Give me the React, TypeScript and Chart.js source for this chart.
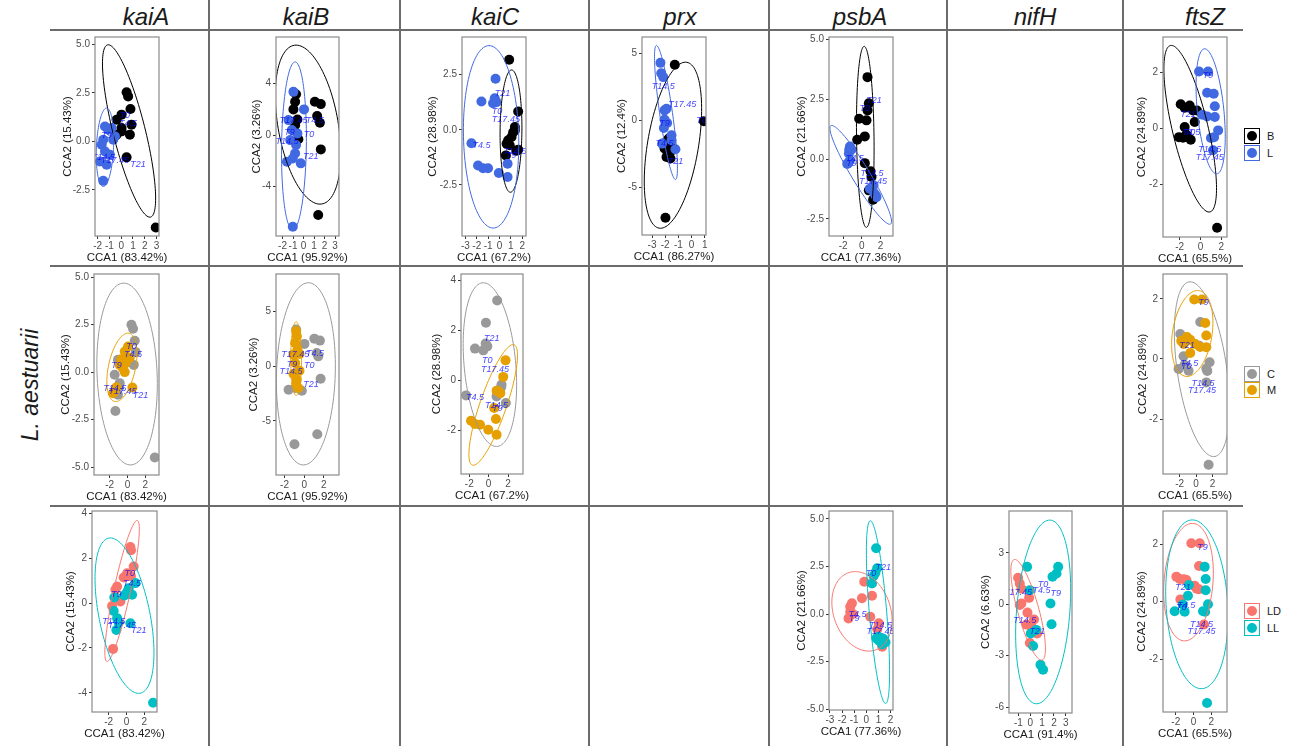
import React, { useEffect, useRef } from "react";
import { Chart, registerables } from "chart.js";
Chart.register(...registerables);
Chart.defaults.font.family = '"Liberation Sans", Arial, sans-serif';

type P = [number, number];
type E = [number, number, number, number, number]; // centre x, centre y, top x, top y, half-width of horizontal chord

const genes = ["kaiA", "kaiB", "kaiC", "prx", "psbA", "nifH", "ftsZ"];
const timeLabels = ["T0", "T4.5", "T9", "T14.5", "T17.45", "T21"];
const rowGroups = [["B", "L"], ["C", "M"], ["LD", "LL"]];
const groupColors: Record<string, string> = { B: "#000000", L: "#4169E1", C: "#999999", M: "#E69F00", LD: "#F8766D", LL: "#00BFC4" };
const xTitles: Record<string, string> = { kaiA: "CCA1 (83.42%)", kaiB: "CCA1 (95.92%)", kaiC: "CCA1 (67.2%)", prx: "CCA1 (86.27%)", psbA: "CCA1 (77.36%)", nifH: "CCA1 (91.4%)", ftsZ: "CCA1 (65.5%)" };
const yTitles: Record<string, string> = { kaiA: "CCA2 (15.43%)", kaiB: "CCA2 (3.26%)", kaiC: "CCA2 (28.98%)", prx: "CCA2 (12.4%)", psbA: "CCA2 (21.66%)", nifH: "CCA2 (6.63%)", ftsZ: "CCA2 (24.89%)" };

// ---- tick values ----
const t_m2to3 = [-2, -1, 0, 1, 2, 3];
const t_m3to2 = [-3, -2, -1, 0, 1, 2];
const t_m3to1 = [-3, -2, -1, 0, 1];
const t_m1to3 = [-1, 0, 1, 2, 3];
const t_m202 = [-2, 0, 2];
const t_m2024 = [-2, 0, 2, 4];
const t_m42024 = [-4, -2, 0, 2, 4];
const t_m404 = [-4, 0, 4];
const t_m505 = [-5, 0, 5];
const t_m63 = [-6, -3, 0, 3];
const t_25a = [-2.5, 0, 2.5, 5];
const t_25b = [-2.5, 0, 2.5];
const t_25c = [-5, -2.5, 0, 2.5, 5];

// ---- row 1 (B / L) ----
const kaiA_B: P[] = [[0.46,2.53],[0.59,2.32],[0.79,1.67],[0.03,1.38],[-0.39,1.12],[0.88,0.86],[0.03,0.69],[0.03,0.52],[-0.39,0.35],[0.74,0.35],[0.46,-0.82],[2.94,-4.43]];
const kaiA_L: P[] = [[-1.38,0.77],[-1.10,0.60],[-0.68,0.09],[-1.53,0.09],[-1.66,-0.17],[-1.38,-0.52],[-0.96,-0.69],[-1.81,-1.03],[-1.24,-1.20],[-1.53,-2.03],[-0.53,0.26],[-0.81,0.69]];
const kaiA_BL_ell: E[] = [[0.67,0.54,-1.10,4.98,1.41],[-1.38,-0.30,-1.24,1.72,0.73]];
const kaiA_BL_lab: P[] = [[0.31,1.32],[0.59,0.90],[-1.24,0.29],[-1.53,-0.82],[-0.53,-0.99],[1.44,-1.20]];

const kaiB_B: P[] = [[-0.71,3.17],[-0.80,2.58],[-0.96,1.99],[1.08,2.58],[1.65,2.40],[1.30,1.47],[1.56,0.95],[-0.58,1.21],[-0.80,0.77],[-0.49,-0.33],[1.65,-1.11],[1.40,-6.19]];
const kaiB_L: P[] = [[-0.96,3.35],[0.05,1.99],[-1.43,1.16],[-1.11,0.39],[-0.71,-0.77],[-0.80,-1.42],[-1.58,-2.06],[-1.02,-1.81],[-0.26,-2.19],[-1.02,-7.10],[-1.27,-0.39],[-0.58,0.13]];
const kaiB_BL_ell: E[] = [[0.43,0.81,-0.71,6.97,2.9],[-0.91,-0.84,-0.80,5.67,1.18]];
const kaiB_BL_lab: P[] = [[0.52,0.08],[1.08,1.16],[-1.34,0.18],[-1.58,-0.52],[-0.96,1.11],[0.68,-1.63]];

const kaiC_B: P[] = [[0.85,3.17],[1.64,0.83],[1.35,0.12],[1.20,-0.11],[1.06,-0.33],[0.76,-0.48],[0.62,-0.63],[1.64,-0.90],[0.56,-1.16],[1.35,-0.03],[0.9,-0.7],[1.5,-0.95]];
const kaiC_L: P[] = [[-0.35,2.31],[-1.59,1.28],[-0.42,1.43],[-0.57,1.20],[-0.27,1.25],[-2.47,-0.61],[-1.89,-1.62],[-1.45,-1.74],[-1.01,-1.74],[-0.06,-1.96],[0.71,-1.54],[0.71,-2.14]];
const kaiC_BL_ell: E[] = [[1.01,-0.06,1.06,2.71,0.96],[-0.74,-0.32,-0.92,3.81,2.43]];
const kaiC_BL_lab: P[] = [[-0.21,0.83],[-1.59,-0.71],[1.0,-1.16],[1.35,-0.97],[0.56,0.45],[0.27,1.66]];

const prx_B: P[] = [[-1.27,4.13],[0.94,-0.07],[-1.73,-1.36],[-1.98,-1.73],[-1.60,-1.73],[-2.05,-2.10],[-1.80,-2.47],[-1.90,-2.72],[-1.60,-2.84],[-1.98,-7.24],[-1.47,-2.22],[-1.85,-1.5]];
const prx_L: P[] = [[-2.36,4.27],[-2.30,3.50],[-2.15,3.21],[-2.05,0.74],[-1.90,0.86],[-2.05,0.05],[-1.85,-0.20],[-2.10,-0.57],[-1.52,-1.11],[-1.52,-1.48],[-1.22,-2.15],[-2.23,-1.73]];
const prx_BL_ell: E[] = [[-1.41,-1.85,-0.46,4.32,1.96],[-1.94,0.58,-2.66,5.56,0.49]];
const prx_BL_lab: P[] = [[0.76,0.0],[-2.05,-1.73],[-2.05,-0.25],[-2.15,2.52],[-0.71,1.19],[-1.22,-3.04]];

const psbA_B: P[] = [[0.61,3.43],[0.75,2.34],[0.61,2.04],[-0.29,1.69],[0.50,1.62],[0.32,0.95],[-0.50,0.81],[0.32,-0.17],[0.93,-0.51],[0.75,-1.31],[1.21,-1.70],[1.04,-0.75]];
const psbA_L: P[] = [[-1.28,0.53],[-1.36,0.39],[-1.39,0.23],[-1.46,-0.17],[-1.57,-0.2],[1.50,-1.52],[1.32,-1.42],[-1.1,0.4],[-1.28,-0.05],[1.57,-1.6],[0.86,-1.24],[1.25,-1.1]];
const psbA_BL_ell: E[] = [[0.37,0.93,0.25,4.72,0.94],[-0.12,-0.66,-3.24,1.41,1.11]];
const psbA_BL_lab: P[] = [[0.32,2.11],[-0.75,0.02],[-1.10,-0.19],[1.10,-0.59],[1.21,-0.93],[1.32,2.46]];

const ftsZ_B: P[] = [[-1.90,0.85],[-1.52,0.73],[-1.04,0.81],[-0.72,0.63],[-0.34,0.63],[-0.56,0.22],[-1.52,0.04],[-2.07,-0.32],[-1.68,-0.34],[-0.94,-0.41],[-1.36,-0.23],[1.59,-3.55]];
const ftsZ_L: P[] = [[-0.14,2.02],[0.72,2.02],[0.63,1.26],[1.27,1.23],[1.37,0.78],[0.18,0.48],[0.63,0.42],[1.37,0.40],[1.69,-0.08],[1.30,-0.32],[1.20,-0.79],[1.0,-0.35]];
const ftsZ_BL_ell: E[] = [[-0.99,-0.02,-2.80,2.95,1.76],[0.97,0.6,0.40,2.83,1.28]];
const ftsZ_BL_lab: P[] = [[-1.0,-0.14],[-0.88,-0.14],[0.72,1.88],[0.88,-0.77],[0.88,-1.03],[-1.2,0.48]];

// ---- row 2 (C / M) ----
const kaiA_C: P[] = [[0.44,2.49],[0.62,2.28],[0.81,1.65],[0.92,1.05],[0.70,0.38],[-1.44,-0.14],[-0.88,-0.58],[-0.96,-0.76],[-1.07,-1.19],[-1.36,-2.04],[3.06,-4.49],[-1.07,0.65]];
const kaiA_M: P[] = [[0.06,1.35],[-0.31,1.08],[0.25,0.74],[-0.69,0.68],[-0.20,0.47],[-0.51,0.21],[-0.31,0.0],[-1.44,-0.98],[-1.63,-1.11],[0.55,-0.81],[-0.88,0.38],[-1.25,-0.8]];
const kaiA_CM_ell: E[] = [[-0.05,-0.1,-0.43,4.68,3.37],[-0.63,0.25,0.06,2.05,1.54]];
const kaiA_CM_lab: P[] = [[0.44,1.35],[0.62,0.91],[-1.25,0.33],[-1.44,-0.84],[-0.57,-1.02],[1.45,-1.23]];

const kaiB_C: P[] = [[-0.82,3.35],[0.02,2.04],[1.03,2.52],[1.60,2.34],[1.27,1.21],[1.43,0.90],[1.67,-1.15],[-1.59,-2.16],[-0.24,-2.25],[-0.99,-7.14],[1.33,-6.22],[-0.9,-2.0]];
const kaiB_M: P[] = [[-0.82,3.2],[-0.75,2.73],[-0.92,2.13],[-0.69,1.51],[-1.09,1.06],[-0.48,1.12],[-0.92,0.29],[-0.48,-0.41],[-1.09,-0.72],[-0.75,-1.24],[-0.82,-1.6],[-0.6,-2.0]];
const kaiB_CM_ell: E[] = [[0.17,-0.7,0.42,7.63,2.99],[-0.82,0.69,-0.82,4.06,0.55]];
const kaiB_CM_lab: P[] = [[0.52,0.07],[1.10,1.12],[-1.25,0.14],[-1.35,-0.53],[-0.92,1.06],[0.70,-1.63]];

const kaiC_C: P[] = [[0.88,3.2],[-0.28,2.31],[-0.31,1.48],[-0.14,1.37],[-1.41,1.28],[-0.55,1.21],[-2.33,-0.59],[1.33,-0.16],[1.16,-0.36],[0.82,-0.63],[1.77,-0.89],[1.3,-0.25]];
const kaiC_M: P[] = [[1.74,0.81],[1.50,0.15],[0.98,-0.43],[0.57,-1.09],[0.75,-1.53],[-1.82,-1.6],[-1.41,-1.73],[-0.89,-1.76],[-0.04,-1.96],[0.82,-2.16],[0.82,-0.4],[1.2,-0.5]];
const kaiC_CM_ell: E[] = [[0.13,0.64,-0.55,3.91,2.67],[0.47,-0.97,2.52,1.44,1.44]];
const kaiC_CM_lab: P[] = [[-0.14,0.80],[-1.41,-0.67],[0.92,-1.13],[0.82,-1.0],[0.65,0.44],[0.31,1.68]];

const ftsZ_C: P[] = [[0.51,1.23],[-1.92,0.83],[0.39,0.44],[-1.52,0.09],[-2.12,-0.33],[-0.91,-0.39],[1.64,-0.11],[1.24,-0.32],[1.36,-0.4],[1.24,-0.78],[1.52,-3.52],[-1.4,-0.2]];
const ftsZ_M: P[] = [[-0.22,1.98],[0.71,1.98],[1.11,1.20],[1.24,0.78],[-1.11,0.73],[-0.71,0.64],[-0.1,0.5],[1.24,0.39],[-0.71,0.2],[-1.5,0.5],[0.5,0.4],[-1.8,0.6]];
const ftsZ_CM_ell: E[] = [[0.71,-0.34,-0.71,2.57,3.03],[-0.46,0.85,0.19,2.28,2.42]];
const ftsZ_CM_lab: P[] = [[-1.2,-0.25],[-0.82,-0.16],[0.91,1.87],[0.83,-0.8],[0.71,-1.06],[-1.11,0.44]];

// ---- row 3 (LD / LL) ----
const kaiA_LD: P[] = [[0.44,2.50],[0.51,2.35],[0.81,1.63],[0.07,1.33],[-0.31,1.14],[-1.05,0.74],[-1.24,0.59],[-0.68,0.07],[-1.61,-0.13],[-1.50,-2.04],[-0.12,0.37],[0.5,1.2]];
const kaiA_LL: P[] = [[1.0,0.89],[0.25,0.66],[0.07,0.49],[0.63,0.37],[-0.24,0.34],[-1.36,0.25],[-1.43,-0.35],[-1.05,-0.67],[-0.87,-0.87],[-1.13,-1.20],[0.44,-0.9],[2.98,-4.44]];
const kaiA_LDLL_ell: E[] = [[-0.49,0.54,1.19,3.68,0.95],[-0.22,-0.56,-1.80,2.90,2.9]];
const kaiA_LDLL_lab: P[] = [[0.36,1.33],[0.63,0.89],[-1.13,0.37],[-1.43,-0.80],[-0.49,-1.0],[1.37,-1.2]];

const psbA_LD: P[] = [[-0.17,1.70],[0.47,0.96],[-0.36,0.83],[-1.19,0.56],[-1.33,0.38],[-1.33,0.1],[-1.47,-0.23],[0.33,-0.14],[1.03,-0.49],[1.31,-1.72],[0.9,-0.8],[-1.1,0.0]];
const psbA_LL: P[] = [[0.81,3.46],[0.89,2.41],[0.75,2.17],[0.47,1.61],[0.83,-1.28],[1.17,-1.37],[1.58,-1.49],[1.3,-1.6],[1.4,-1.3],[1.0,-1.2],[0.6,2.0],[1.05,-1.4]];
const psbA_LDLL_ell: E[] = [[-0.36,0.14,-0.92,2.23,2.42],[0.96,0.1,0.33,4.91,0.72]];
const psbA_LDLL_lab: P[] = [[0.39,2.11],[-0.72,-0.02],[-1.0,-0.26],[1.17,-0.58],[1.17,-0.93],[1.39,2.44]];

const nifH_LD: P[] = [[-1.03,1.54],[-0.89,1.21],[-0.75,0.9],[-0.10,0.37],[-0.75,0.04],[-0.89,-0.05],[-0.24,-0.49],[0.32,-0.89],[-0.32,-1.19],[0.58,-1.71],[-0.04,-2.26],[0.1,-1.3]];
const nifH_LL: P[] = [[-0.27,2.18],[2.36,2.18],[2.22,1.79],[1.88,1.60],[-0.04,0.82],[1.71,0.04],[1.80,-1.17],[0.04,-1.71],[0.24,-2.44],[0.86,-3.53],[1.08,-3.82],[0.5,-1.5]];
const nifH_LDLL_ell: E[] = [[-0.18,-0.33,-1.31,2.61,0.93],[1.09,-0.45,1.65,4.91,2.26]];
const nifH_LDLL_lab: P[] = [[1.08,1.17],[0.95,0.82],[2.16,0.62],[-0.47,-0.98],[-1.03,0.68],[0.58,-1.62]];

const ftsZ_LD: P[] = [[-0.25,2.03],[0.69,2.03],[0.61,1.24],[-1.93,0.87],[-1.56,0.79],[-1.08,0.78],[0.12,0.55],[0.61,0.43],[-1.48,0.08],[1.17,-0.79],[-0.8,0.75],[0.35,0.45]];
const ftsZ_LL: P[] = [[1.25,1.21],[1.36,0.79],[-0.52,0.58],[1.36,0.40],[-0.63,0.21],[1.62,-0.09],[-2.12,-0.33],[-1.0,-0.35],[1.06,-0.33],[1.3,-0.35],[1.51,-3.52],[-1.2,-0.1]];
const ftsZ_LDLL_ell: E[] = [[-0.57,0.68,-0.13,2.72,2.75],[0.37,-0.09,-0.13,2.84,3.46]];
const ftsZ_LDLL_lab: P[] = [[-1.37,-0.21],[-0.81,-0.14],[0.99,1.89],[0.88,-0.78],[0.88,-1.05],[-1.19,0.48]];

interface Def {
  gene: string; row: number;
  box: [number, number, number, number]; gap: number;
  xr: P; yr: P; xt: number[]; yt: number[]; yd: number;
  g1: P[]; g2: P[]; ell: E[]; lab: P[];
}

const panels: Def[] = [
  { gene: "kaiA", row: 0, box: [95, 37, 159, 236], gap: 27, xr: [-2.23, 3.22], yr: [-4.87, 5.38], xt: t_m2to3, yt: t_25a, yd: 1, g1: kaiA_B, g2: kaiA_L, ell: kaiA_BL_ell, lab: kaiA_BL_lab },
  { gene: "kaiB", row: 0, box: [276, 37, 339, 236], gap: 19, xr: [-2.62, 3.38], yr: [-7.82, 7.6], xt: t_m2to3, yt: t_m404, yd: 0, g1: kaiB_B, g2: kaiB_L, ell: kaiB_BL_ell, lab: kaiB_BL_lab },
  { gene: "kaiC", row: 0, box: [462, 37, 526, 236], gap: 29, xr: [-3.3, 2.33], yr: [-4.81, 4.2], xt: t_m3to2, yt: t_25b, yd: 1, g1: kaiC_B, g2: kaiC_L, ell: kaiC_BL_ell, lab: kaiC_BL_lab },
  { gene: "prx", row: 0, box: [642, 37, 706, 235], gap: 20, xr: [-3.76, 1.1], yr: [-8.52, 6.19], xt: t_m3to1, yt: t_m505, yd: 0, g1: prx_B, g2: prx_L, ell: prx_BL_ell, lab: prx_BL_lab },
  { gene: "psbA", row: 0, box: [829, 37, 893, 236], gap: 27, xr: [-3.53, 3.35], yr: [-3.22, 5.11], xt: t_m202, yt: t_25a, yd: 1, g1: psbA_B, g2: psbA_L, ell: psbA_BL_ell, lab: psbA_BL_lab },
  { gene: "ftsZ", row: 0, box: [1163, 37, 1227, 237], gap: 21, xr: [-3.6, 2.54], yr: [-3.88, 3.25], xt: t_m202, yt: t_m202, yd: 0, g1: ftsZ_B, g2: ftsZ_L, ell: ftsZ_BL_ell, lab: ftsZ_BL_lab },
  { gene: "kaiA", row: 1, box: [94, 274, 159, 475], gap: 28, xr: [-3.76, 3.53], yr: [-5.41, 5.16], xt: t_m202, yt: t_25c, yd: 1, g1: kaiA_C, g2: kaiA_M, ell: kaiA_CM_ell, lab: kaiA_CM_lab },
  { gene: "kaiB", row: 1, box: [276, 274, 339, 475], gap: 22, xr: [-2.87, 3.54], yr: [-9.95, 8.43], xt: t_m202, yt: t_m505, yd: 0, g1: kaiB_C, g2: kaiB_M, ell: kaiB_CM_ell, lab: kaiB_CM_lab },
  { gene: "kaiC", row: 1, box: [461, 274, 523, 474], gap: 24, xr: [-2.85, 3.54], yr: [-3.73, 4.26], xt: t_m202, yt: t_m2024, yd: 0, g1: kaiC_C, g2: kaiC_M, ell: kaiC_CM_ell, lab: kaiC_CM_lab },
  { gene: "ftsZ", row: 1, box: [1163, 274, 1227, 474], gap: 20, xr: [-4.01, 3.75], yr: [-3.83, 2.83], xt: t_m202, yt: t_m202, yd: 0, g1: ftsZ_C, g2: ftsZ_M, ell: ftsZ_CM_ell, lab: ftsZ_CM_lab },
  { gene: "kaiA", row: 2, box: [92, 511, 157, 712], gap: 21, xr: [-3.86, 3.42], yr: [-4.85, 4.1], xt: t_m202, yt: t_m42024, yd: 0, g1: kaiA_LD, g2: kaiA_LL, ell: kaiA_LDLL_ell, lab: kaiA_LDLL_lab },
  { gene: "psbA", row: 2, box: [829, 511, 893, 710], gap: 27, xr: [-3.08, 2.2], yr: [-5.05, 5.42], xt: t_m3to2, yt: t_25c, yd: 1, g1: psbA_LD, g2: psbA_LL, ell: psbA_LDLL_ell, lab: psbA_LDLL_lab },
  { gene: "nifH", row: 2, box: [1009, 511, 1072, 713], gap: 23, xr: [-1.8, 3.53], yr: [-6.35, 5.44], xt: t_m1to3, yt: t_m63, yd: 0, g1: nifH_LD, g2: nifH_LL, ell: nifH_LDLL_ell, lab: nifH_LDLL_lab },
  { gene: "ftsZ", row: 2, box: [1163, 511, 1227, 712], gap: 21, xr: [-3.43, 3.75], yr: [-3.83, 3.15], xt: t_m202, yt: t_m202, yd: 0, g1: ftsZ_LD, g2: ftsZ_LL, ell: ftsZ_LDLL_ell, lab: ftsZ_LDLL_lab },
];

const TITLE_FONT = '11.5px "Liberation Sans", Arial, sans-serif';

function makeDecor(d: Def, cols: string[]) {
  return {
    id: "decor",
    afterDatasetsDraw(chart: any) {
      const { ctx, chartArea: ca } = chart;
      const xs = chart.scales.x, ys = chart.scales.y;
      ctx.save();
      ctx.beginPath();
      ctx.rect(ca.left, ca.top, ca.right - ca.left, ca.bottom - ca.top);
      ctx.clip();
      d.ell.forEach((e, k) => {
        const [cx, cy, tx, ty, w] = e;
        ctx.beginPath();
        for (let i = 0; i <= 120; i++) {
          const a = (i / 120) * Math.PI * 2;
          const X = cx + (tx - cx) * Math.cos(a) + w * Math.sin(a);
          const Y = cy + (ty - cy) * Math.cos(a);
          const px = xs.getPixelForValue(X), py = ys.getPixelForValue(Y);
          if (i === 0) ctx.moveTo(px, py); else ctx.lineTo(px, py);
        }
        ctx.closePath();
        ctx.strokeStyle = cols[k];
        ctx.lineWidth = 1;
        ctx.stroke();
      });
      ctx.font = 'italic 9px "Liberation Sans", Arial, sans-serif';
      ctx.fillStyle = "rgba(0,0,255,0.75)";
      ctx.textAlign = "center";
      ctx.textBaseline = "middle";
      d.lab.forEach(([x, y], i) => {
        ctx.fillText(timeLabels[i], xs.getPixelForValue(x), ys.getPixelForValue(y));
      });
      ctx.restore();
      ctx.save();
      ctx.strokeStyle = "#8a8a8a";
      ctx.lineWidth = 1.2;
      ctx.strokeRect(ca.left, ca.top, ca.right - ca.left, ca.bottom - ca.top);
      // axis titles (drawn here so they may overflow the narrow plot, as in the original)
      ctx.font = TITLE_FONT;
      ctx.fillStyle = "#1a1a1a";
      ctx.textAlign = "center";
      ctx.textBaseline = "middle";
      ctx.fillText(xTitles[d.gene], (ca.left + ca.right) / 2, ca.bottom + 22);
      ctx.translate(ca.left - d.gap, (ca.top + ca.bottom) / 2);
      ctx.rotate(-Math.PI / 2);
      ctx.fillText(yTitles[d.gene], 0, 0);
      ctx.restore();
    },
  };
}

function Panel({ d }: { d: Def }) {
  const ref = useRef<HTMLCanvasElement>(null);
  const [l, t, r, b] = d.box;
  const YW = Math.round(d.gap + 8);
  const PT = 8, PR = 14, XH = 30;
  const w = r - l + YW + PR;
  const h = b - t + PT + XH;
  const cols = rowGroups[d.row].map((g) => groupColors[g]);
  useEffect(() => {
    const chart = new Chart(ref.current as HTMLCanvasElement, {
      type: "scatter",
      data: {
        datasets: [
          { data: d.g1.map(([x, y]) => ({ x, y })), backgroundColor: cols[0], borderWidth: 0, pointRadius: 5, pointHoverRadius: 5, order: 2 },
          { data: d.g2.map(([x, y]) => ({ x, y })), backgroundColor: cols[1], borderWidth: 0, pointRadius: 5, pointHoverRadius: 5, order: 1 },
        ],
      },
      options: {
        animation: false,
        responsive: false,
        devicePixelRatio: 1,
        events: [],
        layout: { padding: { left: 0, top: PT, right: PR, bottom: 0 } },
        plugins: { legend: { display: false }, tooltip: { enabled: false } },
        scales: {
          x: {
            type: "linear", position: "bottom", min: d.xr[0], max: d.xr[1],
            afterBuildTicks: (s: any) => { s.ticks = d.xt.map((v) => ({ value: v })); },
            afterFit: (s: any) => { s.height = XH; },
            ticks: { autoSkip: false, maxRotation: 0, minRotation: 0, padding: 1, color: "#4d4d4d", font: { size: 10 }, callback: (v: any) => Number(v).toFixed(0) },
            grid: { drawOnChartArea: false, drawTicks: true, tickLength: 3, color: "#333333" },
            border: { display: false },
            title: { display: false },
          },
          y: {
            type: "linear", position: "left", min: d.yr[0], max: d.yr[1],
            afterBuildTicks: (s: any) => { s.ticks = d.yt.map((v) => ({ value: v })); },
            afterFit: (s: any) => { s.width = YW; },
            ticks: { autoSkip: false, padding: 2, color: "#4d4d4d", font: { size: 10 }, callback: (v: any) => Number(v).toFixed(d.yd) },
            grid: { drawOnChartArea: false, drawTicks: true, tickLength: 3, color: "#333333" },
            border: { display: false },
            title: { display: false },
          },
        },
      },
      plugins: [makeDecor(d, cols)],
    } as any);
    return () => chart.destroy();
  }, []);
  return (
    <canvas
      ref={ref}
      width={w}
      height={h}
      style={{ position: "absolute", left: l - YW, top: t - PT, width: w, height: h }}
    />
  );
}

const hLineY = [30, 266, 506];
const vLineX = [209, 400, 589, 769, 947, 1123];
const headerX = [146, 306, 495, 680, 860, 1035, 1205];
const legendTops = [[128, 145], [366, 382], [603, 620]];

function Legend({ row }: { row: number }) {
  return (
    <>
      {rowGroups[row].map((g, i) => (
        <React.Fragment key={g}>
          <div
            style={{
              position: "absolute", left: 1244, top: legendTops[row][i], width: 16, height: 16,
              boxSizing: "border-box", border: `1.2px solid ${groupColors[g]}`, background: "#fff",
              display: "flex", alignItems: "center", justifyContent: "center",
            }}
          >
            <div style={{ width: 10, height: 10, borderRadius: "50%", background: groupColors[g] }} />
          </div>
          <div
            style={{
              position: "absolute", left: 1267, top: legendTops[row][i], height: 16, lineHeight: "16px",
              fontSize: 11, color: "#1a1a1a",
            }}
          >
            {g}
          </div>
        </React.Fragment>
      ))}
    </>
  );
}

export default function App() {
  return (
    <div
      style={{
        position: "absolute", left: 0, top: 0, width: 1290, height: 746, background: "#ffffff",
        overflow: "hidden", fontFamily: '"Liberation Sans", Arial, sans-serif',
      }}
    >
      {hLineY.map((y) => (
        <div key={"h" + y} style={{ position: "absolute", left: 50, top: y - 0.75, width: 1193, height: 1.5, background: "#6b6b6b" }} />
      ))}
      {vLineX.map((x) => (
        <div key={"v" + x} style={{ position: "absolute", left: x - 0.75, top: 0, width: 1.5, height: 746, background: "#6b6b6b" }} />
      ))}
      {genes.map((g, i) => (
        <div
          key={g}
          style={{
            position: "absolute", left: headerX[i] - 60, width: 120, top: 2, height: 30, lineHeight: "30px",
            textAlign: "center", fontStyle: "italic", fontSize: 24, color: "#1a1a1a",
          }}
        >
          {g}
        </div>
      ))}
      <div
        style={{
          position: "absolute", left: 30 - 80, top: 385 - 15, width: 160, height: 30, lineHeight: "30px",
          textAlign: "center", fontStyle: "italic", fontSize: 23, color: "#1a1a1a", transform: "rotate(-90deg)",
        }}
      >
        L. aestuarii
      </div>
      {panels.map((d, i) => (
        <Panel key={i} d={d} />
      ))}
      <Legend row={0} />
      <Legend row={1} />
      <Legend row={2} />
    </div>
  );
}
